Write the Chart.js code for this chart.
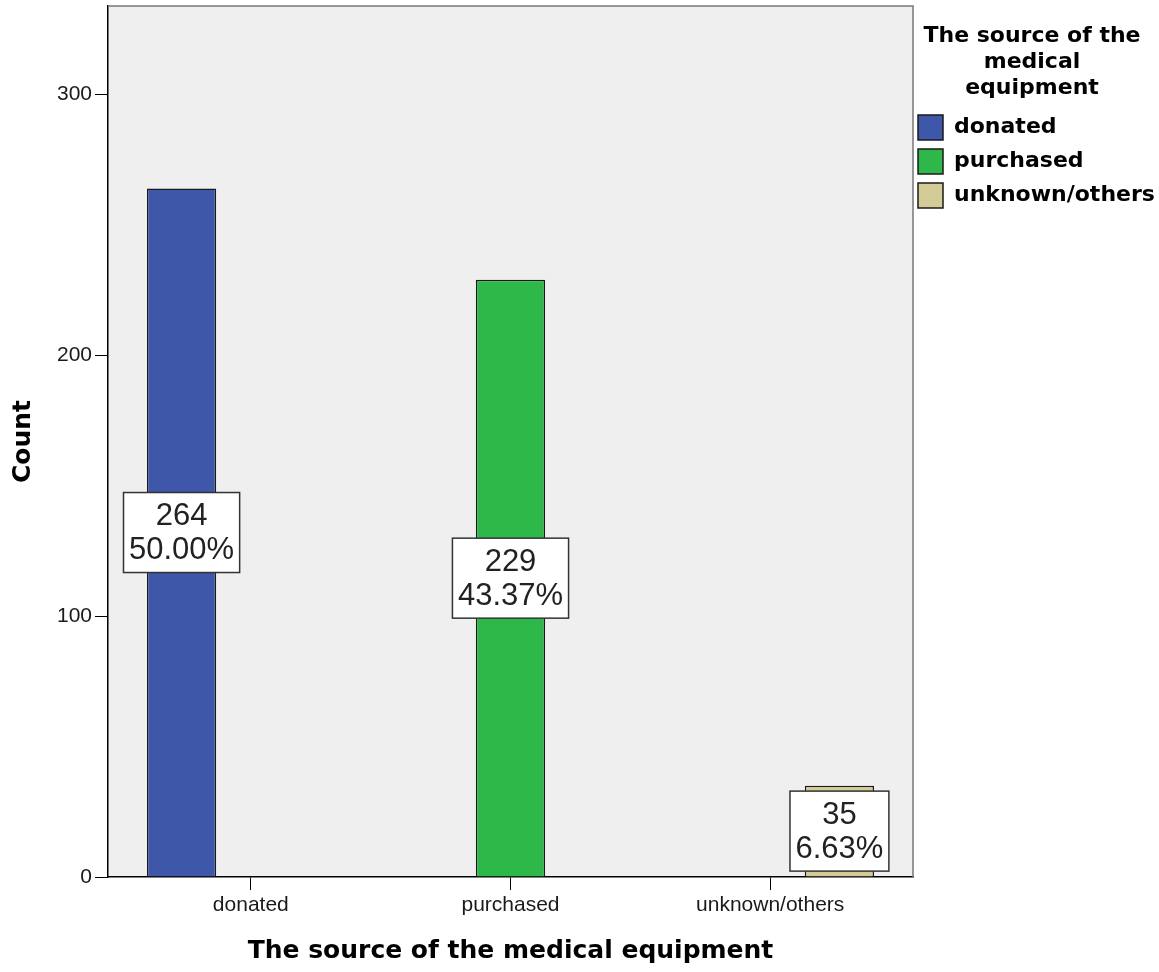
<!DOCTYPE html>
<html>
<head>
<meta charset="utf-8">
<title>The source of the medical equipment</title>
<script src="https://cdn.jsdelivr.net/npm/chart.js@4.4.1/dist/chart.umd.min.js"></script>
<style>
  html, body { margin: 0; padding: 0; background: #ffffff; }
  #wrap { width: 1159px; height: 972px; }
</style>
</head>
<body>
<div id="wrap"><canvas id="sourceChart"></canvas></div>
<script>
const categories = ['donated', 'purchased', 'unknown/others'];
const counts = [264, 229, 35];
const barColors = ['#3e57a9', '#2eb84a', '#d3cc96'];
const yTicks = [0, 100, 200, 300];

const total = counts.reduce((sum, value) => sum + value, 0);

// one dataset per source, so each bar sits in its own slot of the cluster
const datasets = categories.map((name, index) => ({
  label: name,
  data: [{ x: index, y: counts[index] }],
  backgroundColor: barColors[index],
  borderColor: '#1a1a1a',
  borderWidth: 1.5,
  categoryPercentage: 0.8,
  barPercentage: 1.0
}));

// grey plot background + top/right frame
const plotFrame = {
  id: 'plotFrame',
  afterLayout(chart) {
    // nudge the legend a few px toward the plot, like the original
    if (chart.legend) {
      chart.legend.left -= 4;
      chart.legend.right -= 4;
    }
  },
  beforeDraw(chart) {
    const { ctx, chartArea } = chart;
    ctx.save();
    ctx.fillStyle = '#efefef';
    ctx.fillRect(chartArea.left, chartArea.top, chartArea.right - chartArea.left, chartArea.bottom - chartArea.top);
    ctx.restore();
  },
  afterDraw(chart) {
    const { ctx, chartArea } = chart;
    ctx.save();
    ctx.strokeStyle = '#777777';
    ctx.lineWidth = 1.5;
    ctx.beginPath();
    ctx.moveTo(chartArea.left, chartArea.top);
    ctx.lineTo(chartArea.right, chartArea.top);
    ctx.lineTo(chartArea.right, chartArea.bottom);
    ctx.stroke();
    ctx.restore();
  }
};

// count / percent boxes at the middle of each bar
const countLabels = {
  id: 'countLabels',
  afterDatasetsDraw(chart) {
    const { ctx } = chart;
    ctx.save();
    ctx.font = '31px "Liberation Sans", Arial, sans-serif';
    ctx.textAlign = 'center';
    ctx.textBaseline = 'middle';

    chart.data.datasets.forEach((dataset, datasetIndex) => {
      const meta = chart.getDatasetMeta(datasetIndex);
      meta.data.forEach((bar, index) => {
        const value = dataset.data[index].y;
        if (value === null) return;

        const lines = [String(value), (value / total * 100).toFixed(2) + '%'];
        const textWidth = Math.max(...lines.map(line => ctx.measureText(line).width));
        const boxWidth = textWidth + 11;
        const boxHeight = 80;
        const centerX = bar.x;
        const centerY = (bar.y + bar.base) / 2;

        ctx.fillStyle = '#ffffff';
        ctx.fillRect(centerX - boxWidth / 2, centerY - boxHeight / 2, boxWidth, boxHeight);
        ctx.strokeStyle = '#333333';
        ctx.lineWidth = 1.5;
        ctx.strokeRect(centerX - boxWidth / 2, centerY - boxHeight / 2, boxWidth, boxHeight);

        ctx.fillStyle = '#222222';
        ctx.fillText(lines[0], centerX, centerY - 16);
        ctx.fillText(lines[1], centerX, centerY + 18);
      });
    });

    ctx.restore();
  }
};

new Chart(document.getElementById('sourceChart'), {
  type: 'bar',
  data: { datasets },
  options: {
    responsive: true,
    maintainAspectRatio: false,
    animation: false,
    layout: {
      padding: { top: 6, right: 0, bottom: 0, left: 0 }
    },
    plugins: {
      tooltip: { enabled: false },
      legend: {
        position: 'right',
        align: 'start',
        maxWidth: 246,
        title: {
          display: true,
          text: ['The source of the', 'medical', 'equipment'],
          color: '#000000',
          font: { family: '"DejaVu Sans", Verdana, sans-serif', size: 22, weight: 'bold', lineHeight: 1.18 },
          padding: { top: 19, bottom: 55 }
        },
        labels: {
          boxWidth: 25,
          boxHeight: 25,
          padding: 9,
          color: '#000000',
          font: { family: '"DejaVu Sans", Verdana, sans-serif', size: 22, weight: 'bold' }
        }
      }
    },
    scales: {
      x: {
        type: 'linear',
        min: -0.55,
        max: 2.55,
        offset: false,
        afterFit(scale) {
          scale.height = 95;
          scale.paddingLeft = 0;
          scale.paddingRight = 0;
        },
        grid: {
          offset: false,
          drawOnChartArea: false,
          drawTicks: true,
          tickLength: 13,
          tickColor: '#000000'
        },
        border: { display: true, color: '#000000', width: 1.5 },
        ticks: {
          stepSize: 1,
          includeBounds: false,
          maxRotation: 0,
          autoSkip: false,
          padding: 3,
          color: '#1a1a1a',
          font: { family: '"Liberation Sans", Arial, sans-serif', size: 21 },
          callback: (value) => categories[value] ?? ''
        },
        title: {
          display: true,
          text: 'The source of the medical equipment',
          color: '#000000',
          font: { family: '"DejaVu Sans", Verdana, sans-serif', size: 25, weight: 'bold', lineHeight: 1.2 },
          padding: { top: 0, bottom: 6 }
        }
      },
      y: {
        min: yTicks[0],
        max: 334,
        afterFit(scale) {
          scale.width = 108;
          scale.paddingTop = 0;
          scale.paddingBottom = 0;
        },
        afterBuildTicks(scale) {
          scale.ticks = yTicks.map(value => ({ value }));
        },
        grid: {
          drawOnChartArea: false,
          drawTicks: true,
          tickLength: 13,
          tickColor: '#000000'
        },
        border: { display: true, color: '#000000', width: 1.5 },
        ticks: {
          padding: 3,
          color: '#1a1a1a',
          font: { family: '"Liberation Sans", Arial, sans-serif', size: 21 }
        },
        title: {
          display: true,
          text: 'Count',
          color: '#000000',
          font: { family: '"DejaVu Sans", Verdana, sans-serif', size: 25, weight: 'bold', lineHeight: 1.2 },
          padding: { top: 8, bottom: 0 }
        }
      }
    }
  },
  plugins: [plotFrame, countLabels]
});
</script>
</body>
</html>
